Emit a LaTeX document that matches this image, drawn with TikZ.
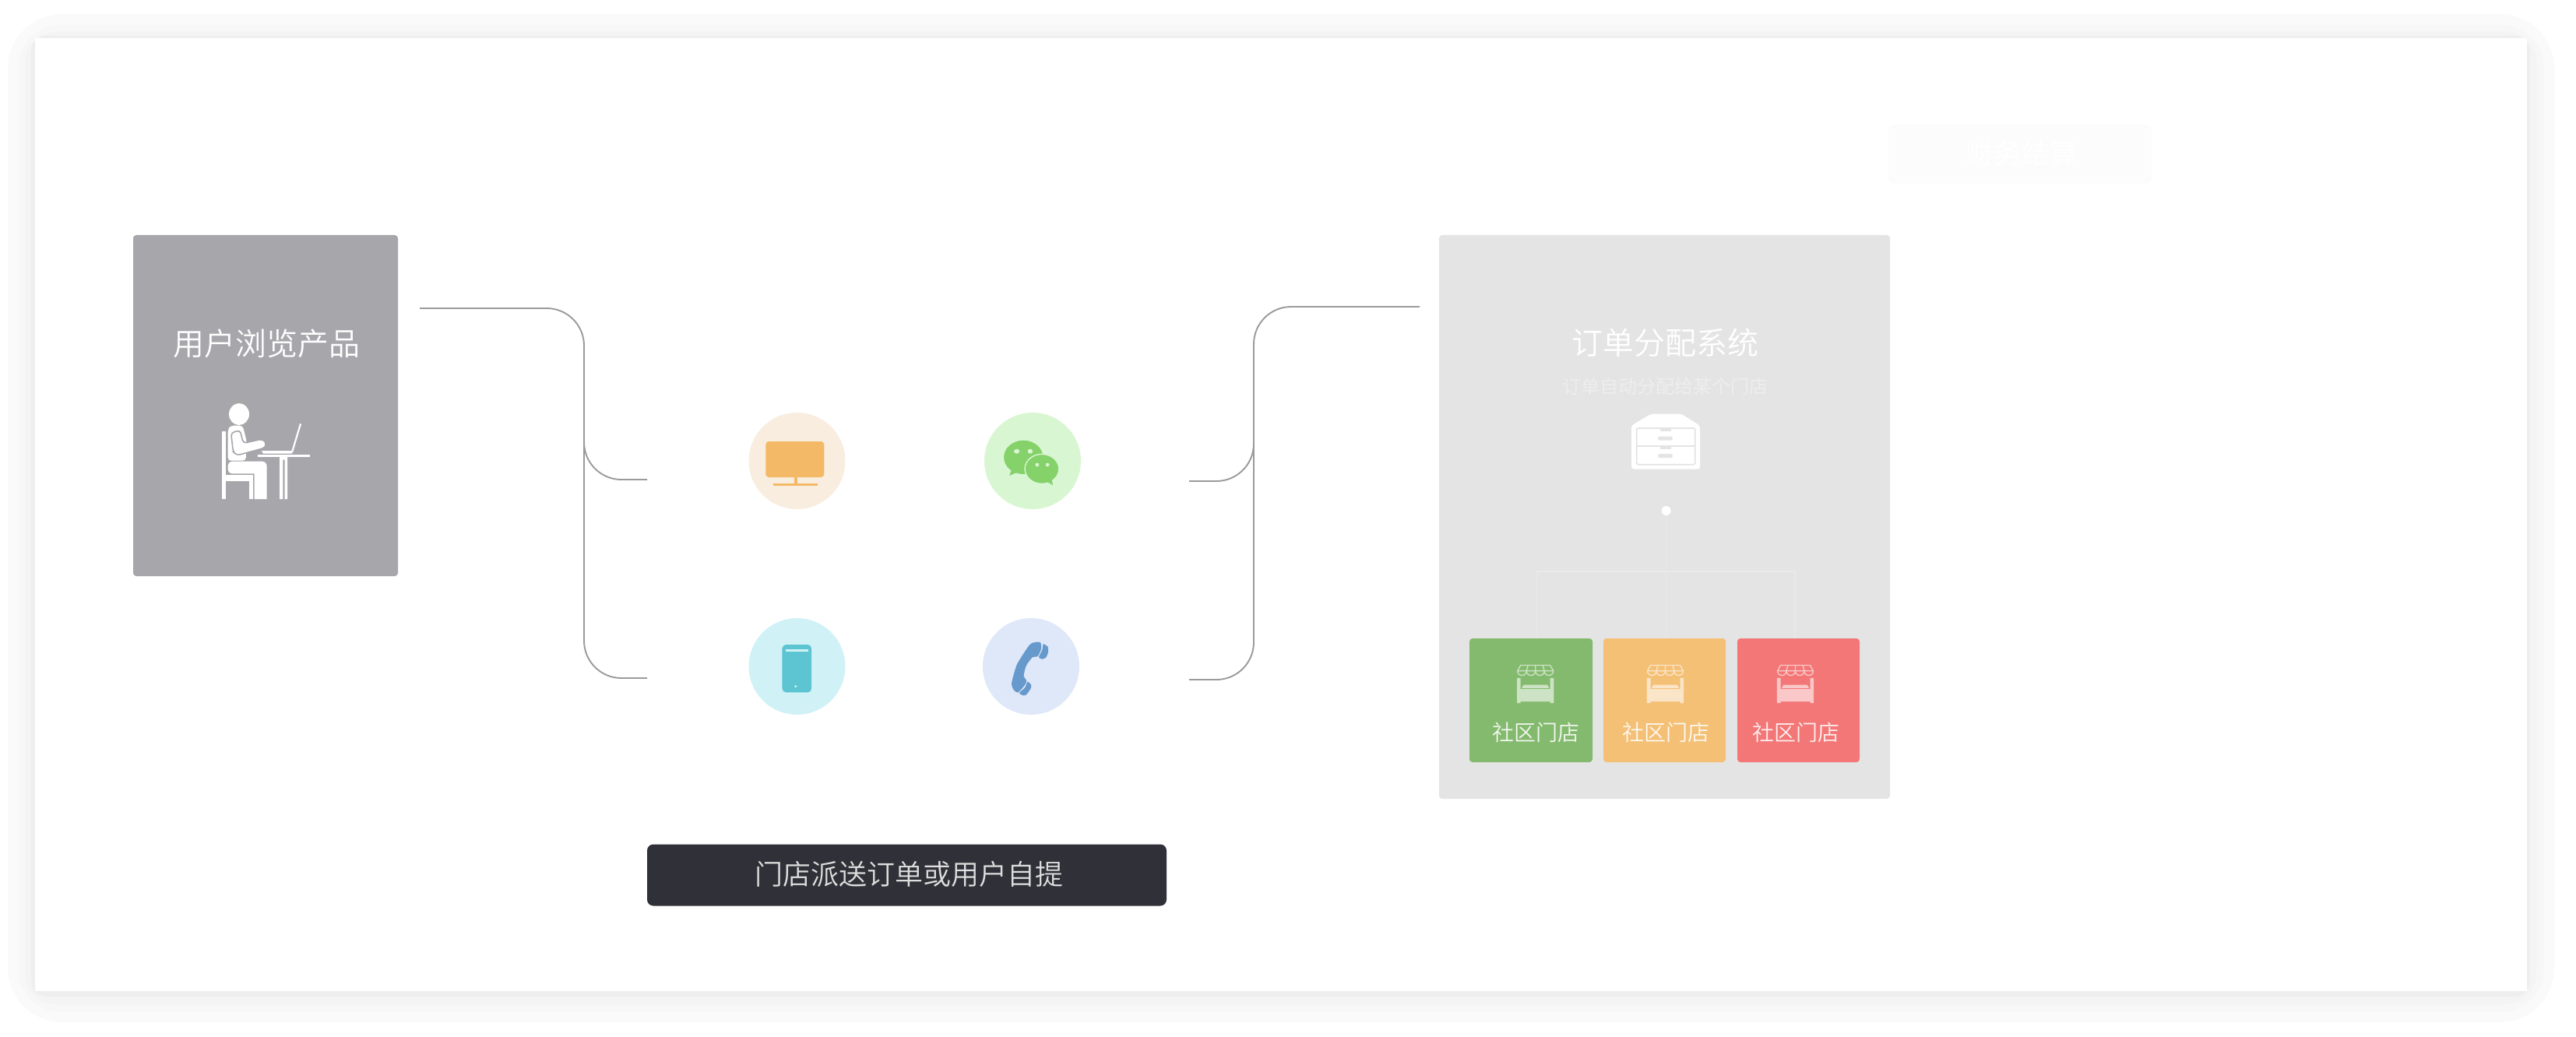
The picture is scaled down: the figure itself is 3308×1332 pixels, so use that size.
\documentclass[tikz,border=0pt]{standalone}
\usepackage{fontspec}
\setmainfont{Noto Sans CJK SC}[UprightFont=* DemiLight]
\definecolor{cLine}{HTML}{9A9A9A}
\definecolor{cGrayBox}{HTML}{A7A6AA}
\definecolor{cSys}{HTML}{E4E4E4}
\definecolor{cDark}{HTML}{303038}
\definecolor{cFaint}{HTML}{E9E9E9}
\definecolor{cOr}{HTML}{F4B966}
\definecolor{cOrBg}{HTML}{F9EDDF}
\definecolor{cGr}{HTML}{85D16A}
\definecolor{cGrBg}{HTML}{D9F6D2}
\definecolor{cCy}{HTML}{5DC4D2}
\definecolor{cCyBg}{HTML}{D0F2F7}
\definecolor{cBl}{HTML}{6699CC}
\definecolor{cBlBg}{HTML}{DFE8F8}
\definecolor{cStoreG}{HTML}{84BA6E}
\definecolor{cStoreO}{HTML}{F4C076}
\definecolor{cStoreR}{HTML}{F37777}
\tikzset{
  box/.style={rectangle,inner sep=0pt,outer sep=0pt,rounded corners=2pt},
  disc/.style={circle,inner sep=0pt,outer sep=0pt,minimum size=62pt},
  conn/.style={draw=cLine,line width=.95pt,rounded corners=24pt},
  faint/.style={draw=cFaint,line width=.7pt},
  big/.style={inner sep=0pt,font=\fontsize{20}{20}\selectfont,text=white},
  mid/.style={inner sep=0pt,font=\fontsize{18}{18}\selectfont},
  shopt/.style={inner sep=0pt,font=\fontsize{14}{14}\selectfont,text=white,text opacity=.88},
  storeicon/.pic={
    \draw[white,draw opacity=.6,line width=.65pt,line join=round]
      (-19,-24) -- (19,-24) -- (23,-16.7)
      arc[start angle=0,end angle=180,radius=5.75]
      arc[start angle=0,end angle=180,radius=5.75]
      arc[start angle=0,end angle=180,radius=5.75]
      arc[start angle=0,end angle=180,radius=5.75]
      -- cycle
      (-23,-16.7) -- (23,-16.7)
      (-9.5,-24) -- (-11.5,-16.7) (0,-24) -- (0,-16.7) (9.5,-24) -- (11.5,-16.7);
    \fill[white,fill opacity=.6]
      (-23.7,-7.7) -- (-19,-7.7) -- (-19,6.7) -- (19,6.7) -- (19,-7.7) -- (23.7,-7.7)
      -- (23.7,24.7) -- (19,24.7) -- (19,22.7) -- (-19,22.7) -- (-19,24.7) -- (-23.7,24.7) -- cycle
      (-17.7,5.3) -- (-15,1) -- (15,1) -- (17.7,5.3) -- cycle;
  }
}
\begin{document}
\begin{tikzpicture}[x=0.5pt,y=-0.5pt]
\useasboundingbox (0,0) rectangle (3308,1332);
\fill[white] (0,0) rectangle (3308,1332);
% shadow bands
\fill[black!1.8,rounded corners=35pt] (10,18) rectangle (3280,1313);
\fill[black!3,rounded corners=28pt] (23,32) rectangle (3267,1300);
\fill[black!4.5,rounded corners=20pt] (32,41) rectangle (3257,1290);
\fill[black!6.5,rounded corners=10pt] (40,46) rectangle (3249,1280);
\node[rectangle,fill=white,inner sep=0pt,minimum width=1600pt,minimum height=612pt] (panel) at (1645,661) {};

% left box
\node[box,fill=cGrayBox,minimum width=170pt,minimum height=219pt] (user) at (341,521) {};
\node[big] (userT) at (342,441) {用户浏览产品};
\begin{scope}[shift={(140,280)},x=0.16667pt,y=-0.16667pt]
  % head
  \fill[white] (501,756) ellipse[x radius=39,y radius=42];
  % chair
  \fill[white] (435,823) rectangle (450,1083);
  \fill[white] (450,990) rectangle (556,1015);
  \fill[white] (541,990) rectangle (556,1083);
  % torso
  \fill[white,rounded corners=2pt] (458,935) -- (458,815) -- (468,800) -- (515,800) -- (530,860) -- (527,935) -- cycle;
  % thigh and shin
  \fill[white] (560,1083) -- (608,1083) [rounded corners=3pt] -- (608,938) -- (458,938) -- (458,985) [sharp corners] -- (560,985) -- cycle;
  % arm
  \fill[white,draw=cGrayBox,line width=.8pt,rounded corners=2pt] (470,828) -- (505,818) -- (517,868) -- (590,852) -- (606,866) -- (602,885) -- (492,915) -- (478,900) -- cycle;
  % laptop and table
  \draw[white,line width=1.1pt] (738,793) -- (705,903);
  \fill[white] (588,897) -- (708,897) -- (704,908) -- (594,908) -- cycle;
  \fill[white] (572,912) rectangle (774,921);
  \fill[white,even odd rule] (657,921) rectangle (687,1083) (670,932) rectangle (677,1083);
\end{scope}

% centre discs
\node[disc,fill=cOrBg] (pc) at (1023.5,592) {};
\node[disc,fill=cGrBg] (wx) at (1326,592) {};
\node[disc,fill=cCyBg] (mob) at (1023.5,856) {};
\node[disc,fill=cBlBg] (tel) at (1324,856) {};
\begin{scope}[shift={(900,500)},x=0.1795pt,y=-0.16667pt]
  % monitor
  \fill[cOr,rounded corners=2pt] (232,201) rectangle (441,339);
  \fill[cOr] (333,339) rectangle (344,365);
  \fill[cOr] (260,363) rectangle (417,373);
  % mobile
  \fill[cCy,rounded corners=2.5pt] (291,984) rectangle (396,1168);
  \fill[cCyBg] (304,1003) rectangle (384,1012);
  \fill[cCyBg] (339,1145) ellipse[x radius=5,y radius=5];
  \begin{scope}[shift={(-11.1,0)}]
  % wechat
  \fill[cGr] (1165,262) ellipse[x radius=70,y radius=65];
  \fill[cGr] (1122,310) -- (1115,333) -- (1142,320) -- cycle;
  \fill[cGrBg] (1141,239) ellipse[x radius=10,y radius=9];
  \fill[cGrBg] (1189,239) ellipse[x radius=9,y radius=9];
  \fill[cGr,draw=cGrBg,line width=.7pt] (1231,307) ellipse[x radius=61,y radius=57];
  \fill[cGr] (1265,345) -- (1271,370) -- (1248,356) -- cycle;
  \fill[cGrBg] (1214,291) ellipse[x radius=7,y radius=7];
  \fill[cGrBg] (1251,291) ellipse[x radius=7,y radius=7];
  % handset
  \fill[cBl] plot[smooth cycle,tension=.45] coordinates {(1225,975) (1195,978) (1178,998) (1142,1060) (1125,1120) (1123,1140) (1130,1158) (1146,1168) (1173,1135) (1175,1120) (1166,1105) (1175,1065) (1198,1032) (1215,1030) (1228,1002)};
  \fill[cBl] plot[smooth cycle,tension=.4] coordinates {(1236,982) (1252,992) (1254,1010) (1246,1033) (1232,1040) (1220,1032) (1232,1005)};
  \fill[cBl] plot[smooth cycle,tension=.4] coordinates {(1180,1127) (1193,1140) (1190,1155) (1176,1176) (1165,1180) (1150,1170) (1170,1150)};
  \end{scope}
\end{scope}

% connectors
\coordinate (ls) at (539,396);
\coordinate (lc) at (750,396);
\coordinate (lb) at (750,871);
\coordinate (le2) at (831,871);
\coordinate (lm) at (750,520);
\coordinate (lk) at (750,616);
\coordinate (le1) at (831,616);
\draw[conn] (ls) -- (lc) -- (lb) -- (le2);
\draw[conn] (lm) -- (lk) -- (le1);
\coordinate (rs) at (1823,394);
\coordinate (rc) at (1610,394);
\coordinate (rb) at (1610,873);
\coordinate (re2) at (1527,873);
\coordinate (rm) at (1610,520);
\coordinate (rk) at (1610,618);
\coordinate (re1) at (1527,618);
\draw[conn] (rs) -- (rc) -- (rb) -- (re2);
\draw[conn] (rm) -- (rk) -- (re1);

% system box
\node[box,fill=cSys,minimum width=289.5pt,minimum height=362pt] (sys) at (2137.5,664) {};
\node[big] (sysT) at (2138,440) {订单分配系统};
\node[inner sep=0pt,font=\fontsize{12}{12}\selectfont,text=white,text opacity=.4] (sysS) at (2138.7,496) {订单自动分配给某个门店};
% cabinet
\fill[white,rounded corners=1.5pt] (2120,531.7) -- (2159,531.7) -- (2183,546.7) -- (2183,602.7) -- (2095,602.7) -- (2095,546.7) -- cycle;
\draw[cSys,line width=.8pt,rounded corners=1pt] (2101.7,550) rectangle (2176.7,596.7);
\draw[cSys,line width=.8pt] (2101.7,573) -- (2176.7,573);
\fill[cSys,rounded corners=1.2pt] (2129,560.7) rectangle (2148,565.7);
\fill[cSys,rounded corners=1.2pt] (2129,583) rectangle (2148,588);
\fill[cSys] (2132,550) rectangle (2145.7,554);
\fill[cSys] (2132,573) rectangle (2145.7,577);
\node[circle,fill=white,inner sep=0pt,minimum size=6pt] (dot) at (2139.7,656) {};

% stores
\node[box,fill=cStoreG,minimum width=79pt,minimum height=79.5pt] (s1) at (1966,899.5) {};
\node[box,fill=cStoreO,minimum width=78.5pt,minimum height=79.5pt] (s2) at (2137.5,899.5) {};
\node[box,fill=cStoreR,minimum width=78.5pt,minimum height=79.5pt] (s3) at (2309.5,899.5) {};
\coordinate (h1) at (1973.7,734);
\coordinate (h3) at (2305,734);
\draw[faint] (dot) -- (dot |- s2.north);
\draw[faint] (h1 |- s1.north) -- (h1) -- (h3) -- (h3 |- s3.north);
\pic at (1971.7,878.5) {storeicon};
\pic at (2138.5,878.5) {storeicon};
\pic at (2305.5,878.5) {storeicon};
\node[shopt] (s1T) at (1972.5,941) {社区门店};
\node[shopt] (s2T) at (2139.3,941) {社区门店};
\node[shopt] (s3T) at (2306,941) {社区门店};

% dark button
\node[box,fill=cDark,rounded corners=4pt,minimum width=333.5pt,minimum height=39.5pt] (btn) at (1164.5,1124) {};
\node[mid,text=black!13] (btnT) at (1167,1123) {门店派送订单或用户自提};

% faint button
\node[box,fill=black!1.2,rounded corners=4pt,minimum width=169pt,minimum height=38pt] (fin) at (2594,198) {};
\node[mid,text=white] (finT) at (2596,197) {财务结算};
\end{tikzpicture}
\end{document}
